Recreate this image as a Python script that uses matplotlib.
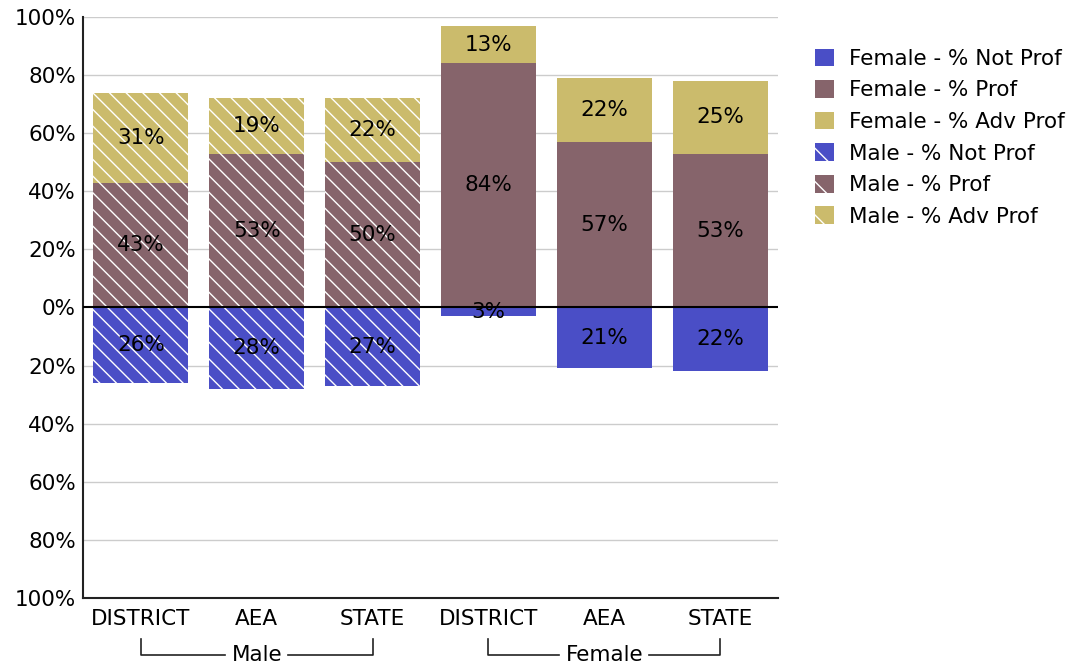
import matplotlib
matplotlib.use("Agg")
import matplotlib.pyplot as plt
from matplotlib.patches import Patch
from matplotlib.transforms import blended_transform_factory

categories = ["DISTRICT", "AEA", "STATE", "DISTRICT", "AEA", "STATE"]
groups = ["Male", "Female"]
not_prof = [26, 28, 27, 3, 21, 22]
prof = [43, 53, 50, 84, 57, 53]
adv_prof = [31, 19, 22, 13, 22, 25]
is_male = [True, True, True, False, False, False]
yticks = [-100, -80, -60, -40, -20, 0, 20, 40, 60, 80, 100]

c_not = "#4a4ec6"
c_prof = "#86646b"
c_adv = "#cbbb6c"

plt.rcParams["hatch.linewidth"] = 1.0
plt.rcParams["font.family"] = ["DejaVu Sans"]

FS = 15.5

fig = plt.figure(figsize=(10.82, 6.65), dpi=100)
ax = fig.add_axes([0.0767, 0.1008, 0.719 - 0.0767, 0.9744 - 0.1008])

x = list(range(len(categories)))
w = 0.82
for i in x:
    hatch = "\\\\" if is_male[i] else None
    kw = dict(width=w, hatch=hatch, edgecolor="white", linewidth=0, zorder=2)
    ax.bar(i, -not_prof[i], color=c_not, **kw)
    ax.bar(i, prof[i], color=c_prof, **kw)
    ax.bar(i, adv_prof[i], bottom=prof[i], color=c_adv, **kw)
    ax.text(i, -not_prof[i] / 2, f"{not_prof[i]}%", ha="center", va="center", fontsize=FS, zorder=4)
    ax.text(i, prof[i] / 2, f"{prof[i]}%", ha="center", va="center", fontsize=FS, zorder=4)
    ax.text(i, prof[i] + adv_prof[i] / 2, f"{adv_prof[i]}%", ha="center", va="center", fontsize=FS, zorder=4)

ax.set_xlim(-0.5, 5.5)
ax.set_ylim(-100, 100)
ax.set_yticks(yticks)
ax.set_yticklabels([f"{abs(v)}%" for v in yticks], fontsize=FS)
ax.set_xticks(x)
ax.set_xticklabels(categories, fontsize=FS)
ax.tick_params(axis="both", length=0, pad=5)
ax.tick_params(axis="x", pad=8)
for v in yticks:
    if v != 0:
        ax.axhline(v, color="#cccccc", linewidth=1, zorder=1)
ax.axhline(0, color="black", linewidth=1.5, zorder=3)
for s in ["top", "right"]:
    ax.spines[s].set_visible(False)
for s in ["left", "bottom"]:
    ax.spines[s].set_color("#222222")
    ax.spines[s].set_linewidth(1.5)

trans = blended_transform_factory(ax.transData, ax.transAxes)
y_top = -0.070
y_lab = -0.098
for g, (a, b), half in zip(groups, [(0, 2), (3, 5)], [0.27, 0.39]):
    mid = (a + b) / 2
    ax.plot([a, a, mid - half], [y_top, y_lab, y_lab], color="#222222", lw=1.2,
            transform=trans, clip_on=False)
    ax.plot([mid + half, b, b], [y_lab, y_lab, y_top], color="#222222", lw=1.2,
            transform=trans, clip_on=False)
    ax.text(mid, y_lab, g, ha="center", va="center", fontsize=FS, transform=trans)

handles = [
    Patch(facecolor=c_not, label="Female - % Not Prof"),
    Patch(facecolor=c_prof, label="Female - % Prof"),
    Patch(facecolor=c_adv, label="Female - % Adv Prof"),
    Patch(facecolor=c_not, edgecolor="white", linewidth=0, hatch="\\", label="Male - % Not Prof"),
    Patch(facecolor=c_prof, edgecolor="white", linewidth=0, hatch="\\", label="Male - % Prof"),
    Patch(facecolor=c_adv, edgecolor="white", linewidth=0, hatch="\\", label="Male - % Adv Prof"),
]
fig.legend(handles=handles, loc="upper left", bbox_to_anchor=(0.745, 0.94),
           frameon=False, fontsize=FS, handlelength=0.9, handleheight=0.9,
           labelspacing=0.52, handletextpad=0.7, borderaxespad=0)

fig.savefig("out.png", dpi=100, facecolor="white")
